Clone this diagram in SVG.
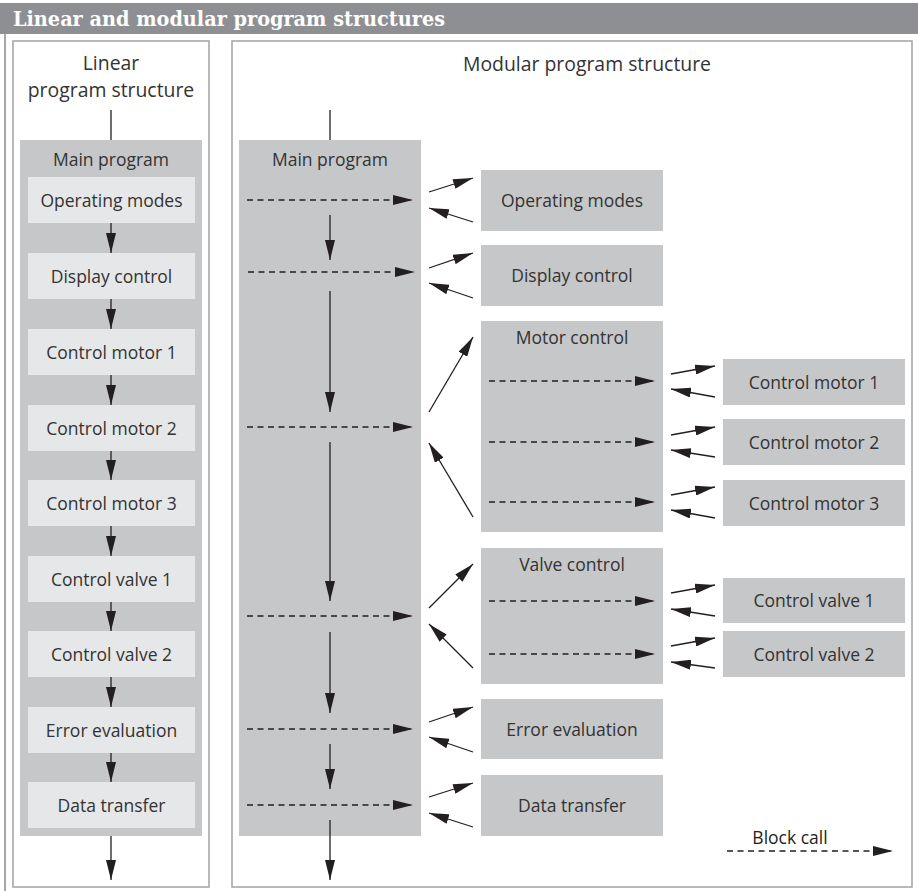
<svg xmlns="http://www.w3.org/2000/svg" width="918" height="891" viewBox="0 0 918 891">
<defs>
<marker id="ah" viewBox="0 0 20 10" refX="20" refY="5" markerWidth="20" markerHeight="10" markerUnits="userSpaceOnUse" orient="auto">
<path d="M0,0 L20,5 L0,10 z" fill="#231f20"/>
</marker>
<style>
.frame{fill:#fff;stroke:#a7a8aa;stroke-width:1.6}
.main{fill:#c6c7c9}
.lite{fill:#e6e7e8}
.blk{fill:#c6c7c9}
.t{font-family:"Open Sans","Noto Sans","Liberation Sans",sans-serif;font-size:17.5px;fill:#333;text-anchor:middle}
.h{font-family:"Open Sans","Noto Sans","Liberation Sans",sans-serif;font-size:19.4px;fill:#333;text-anchor:middle}
.ln{stroke:#231f20;stroke-width:1.3;fill:none}
.ar{stroke:#231f20;stroke-width:1.3;fill:none;marker-end:url(#ah)}
.da{stroke:#231f20;stroke-width:1.3;fill:none;stroke-dasharray:6 4.5;marker-end:url(#ah)}
</style>
</defs>
<rect x="0" y="0" width="918" height="891" fill="#fff"/>
<rect x="0" y="3" width="918" height="31" fill="#8e8f92"/>
<text x="13" y="25.5" font-family="'DejaVu Serif','Liberation Serif',serif" font-weight="bold" font-size="20" fill="#fff" textLength="432" lengthAdjust="spacingAndGlyphs">Linear and modular program structures</text>
<line x1="5" y1="34" x2="5" y2="891" stroke="#a7a8aa" stroke-width="2"/>

<g id="linear-frame">
<rect class="frame" x="13" y="41" width="196" height="846"/>
<text class="h" x="111" y="70">Linear</text>
<text class="h" x="111" y="97">program structure</text>
</g>
<g id="modular-frame">
<rect class="frame" x="232" y="41" width="680" height="846"/>
<text class="h" x="587" y="71">Modular program structure</text>
</g>

<g id="lin-main">
<rect class="main" x="20" y="140" width="182" height="696"/>
<text class="t" x="111" y="166">Main program</text>
</g>
<g id="lin-operating"><rect class="lite" x="28" y="177" width="167" height="46"/><text class="t" x="111.5" y="206.5">Operating modes</text></g>
<g id="lin-display"><rect class="lite" x="28" y="253" width="167" height="46"/><text class="t" x="111.5" y="282.5">Display control</text></g>
<g id="lin-motor1"><rect class="lite" x="28" y="329" width="167" height="46"/><text class="t" x="111.5" y="358.5">Control motor 1</text></g>
<g id="lin-motor2"><rect class="lite" x="28" y="405" width="167" height="46"/><text class="t" x="111.5" y="434.5">Control motor 2</text></g>
<g id="lin-motor3"><rect class="lite" x="28" y="480" width="167" height="46"/><text class="t" x="111.5" y="509.5">Control motor 3</text></g>
<g id="lin-valve1"><rect class="lite" x="28" y="556" width="167" height="46"/><text class="t" x="111.5" y="585.5">Control valve 1</text></g>
<g id="lin-valve2"><rect class="lite" x="28" y="631" width="167" height="46"/><text class="t" x="111.5" y="660.5">Control valve 2</text></g>
<g id="lin-error"><rect class="lite" x="28" y="707" width="167" height="46"/><text class="t" x="111.5" y="736.5">Error evaluation</text></g>
<g id="lin-data"><rect class="lite" x="28" y="782" width="167" height="46"/><text class="t" x="111.5" y="811.5">Data transfer</text></g>

<g id="mod-main">
<rect class="main" x="239" y="140" width="182" height="696"/>
<text class="t" x="330" y="166">Main program</text>
</g>
<g id="mod-operating"><rect class="blk" x="481" y="170" width="182" height="61"/><text class="t" x="572" y="206.5">Operating modes</text></g>
<g id="mod-display"><rect class="blk" x="481" y="245" width="182" height="61"/><text class="t" x="572" y="281.5">Display control</text></g>
<g id="mod-motorctl"><rect class="blk" x="481" y="321" width="182" height="211"/><text class="t" x="572" y="344">Motor control</text></g>
<g id="mod-motor1"><rect class="blk" x="723" y="359" width="182" height="46"/><text class="t" x="814" y="388.5">Control motor 1</text></g>
<g id="mod-motor2"><rect class="blk" x="723" y="419" width="182" height="46"/><text class="t" x="814" y="448.5">Control motor 2</text></g>
<g id="mod-motor3"><rect class="blk" x="723" y="480" width="182" height="46"/><text class="t" x="814" y="509.5">Control motor 3</text></g>
<g id="mod-valvectl"><rect class="blk" x="481" y="548" width="182" height="136"/><text class="t" x="572" y="571">Valve control</text></g>
<g id="mod-valve1"><rect class="blk" x="723" y="578" width="182" height="45"/><text class="t" x="814" y="607">Control valve 1</text></g>
<g id="mod-valve2"><rect class="blk" x="723" y="631" width="182" height="46"/><text class="t" x="814" y="660.5">Control valve 2</text></g>
<g id="mod-error"><rect class="blk" x="481" y="699" width="182" height="60"/><text class="t" x="572" y="735.5">Error evaluation</text></g>
<g id="mod-data"><rect class="blk" x="481" y="775" width="182" height="61"/><text class="t" x="572" y="811.5">Data transfer</text></g>

<g id="legend">
<text class="t" x="790" y="844" style="fill:#231f20">Block call</text>
</g>

<g id="connectors">
<line class="ln" x1="111" y1="110" x2="111" y2="140"/>
<line class="ar" x1="111" y1="223" x2="111" y2="253"/>
<line class="ar" x1="111" y1="299" x2="111" y2="329"/>
<line class="ar" x1="111" y1="375" x2="111" y2="405"/>
<line class="ar" x1="111" y1="451" x2="111" y2="480"/>
<line class="ar" x1="111" y1="526" x2="111" y2="556"/>
<line class="ar" x1="111" y1="602" x2="111" y2="631"/>
<line class="ar" x1="111" y1="677" x2="111" y2="707"/>
<line class="ar" x1="111" y1="753" x2="111" y2="782"/>
<line class="ar" x1="111" y1="836" x2="111" y2="880"/>
<line class="ln" x1="330" y1="110" x2="330" y2="140"/>
<line class="ar" x1="330" y1="215" x2="330" y2="260"/>
<line class="ar" x1="330" y1="291" x2="330" y2="412"/>
<line class="ar" x1="330" y1="442" x2="330" y2="601"/>
<line class="ar" x1="330" y1="632" x2="330" y2="713"/>
<line class="ar" x1="330" y1="744" x2="330" y2="789"/>
<line class="ar" x1="330" y1="820" x2="330" y2="880"/>
<line class="da" x1="247" y1="200" x2="413" y2="200"/>
<line class="da" x1="248" y1="272" x2="415" y2="272"/>
<line class="da" x1="247" y1="427" x2="413" y2="427"/>
<line class="da" x1="247" y1="616" x2="413" y2="616"/>
<line class="da" x1="247" y1="729" x2="413" y2="729"/>
<line class="da" x1="247" y1="805" x2="413" y2="805"/>
<line class="ar" x1="429" y1="192" x2="473" y2="178"/>
<line class="ar" x1="473" y1="222" x2="429" y2="208"/>
<line class="ar" x1="429" y1="268" x2="473" y2="253"/>
<line class="ar" x1="473" y1="298" x2="429" y2="283"/>
<line class="ar" x1="429" y1="412" x2="473" y2="337"/>
<line class="ar" x1="473" y1="517" x2="429" y2="443"/>
<line class="ar" x1="429" y1="608" x2="473" y2="564"/>
<line class="ar" x1="473" y1="668" x2="429" y2="624"/>
<line class="ar" x1="429" y1="722" x2="473" y2="707"/>
<line class="ar" x1="473" y1="752" x2="429" y2="737"/>
<line class="ar" x1="429" y1="797" x2="473" y2="783"/>
<line class="ar" x1="473" y1="827" x2="429" y2="813"/>
<line class="da" x1="489" y1="381" x2="655" y2="381"/>
<line class="da" x1="489" y1="442" x2="655" y2="442"/>
<line class="da" x1="489" y1="502" x2="655" y2="502"/>
<line class="ar" x1="671" y1="374" x2="715" y2="366"/>
<line class="ar" x1="715" y1="397" x2="671" y2="389"/>
<line class="ar" x1="671" y1="435" x2="715" y2="427"/>
<line class="ar" x1="715" y1="457" x2="671" y2="450"/>
<line class="ar" x1="671" y1="495" x2="715" y2="487"/>
<line class="ar" x1="715" y1="518" x2="671" y2="510"/>
<line class="da" x1="489" y1="601" x2="655" y2="601"/>
<line class="da" x1="489" y1="654" x2="655" y2="654"/>
<line class="ar" x1="671" y1="593" x2="715" y2="585"/>
<line class="ar" x1="715" y1="616" x2="671" y2="609"/>
<line class="ar" x1="671" y1="646" x2="715" y2="638"/>
<line class="ar" x1="715" y1="668" x2="671" y2="662"/>
<line class="da" x1="727" y1="851" x2="893" y2="851"/>
</g>
</svg>
